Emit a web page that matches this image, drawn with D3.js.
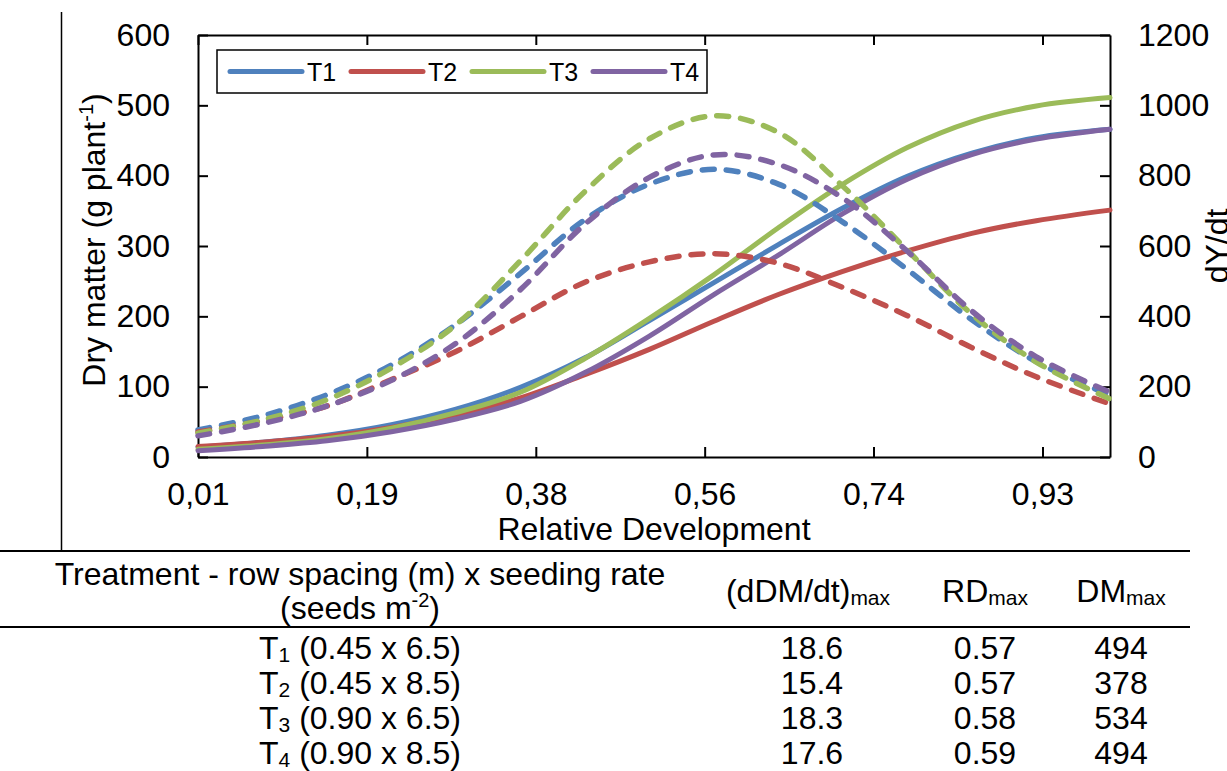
<!DOCTYPE html>
<html>
<head>
<meta charset="utf-8">
<script src="https://cdn.jsdelivr.net/npm/d3@7"></script>
<style>
  body { margin: 0; background: #fff; }
  svg { display: block; font-family: "Liberation Sans", Arial, sans-serif; }
</style>
</head>
<body>
<div class="viz"></div>
<script>
// relative development samples (x) and values
var rd = [0.01, 0.08, 0.15, 0.22, 0.29, 0.36, 0.43, 0.50, 0.57, 0.64, 0.71, 0.78, 0.85, 0.92, 1.00];

// dry matter (left axis)
var dm_T1 = [14, 21, 31, 46, 68, 99, 141, 194, 248, 302, 354, 399, 432, 454, 466];
var dm_T2 = [15, 21, 29, 42, 60, 84, 117, 153, 193, 231, 264, 293, 318, 336, 351];
var dm_T3 = [11, 17, 26, 41, 63, 92, 140, 197, 259, 326, 388, 440, 477, 499, 511];
var dm_T4 = [9, 15, 23, 36, 54, 79, 120, 172, 231, 287, 346, 395, 430, 452, 466];

// dY/dt (right axis)
var dy_T1 = [77, 117, 177, 262, 377, 522, 675, 776, 818, 776, 668, 533, 390, 271, 176];
var dy_T2 = [71, 103, 145, 220, 300, 399, 497, 555, 578, 551, 482, 402, 311, 228, 151];
var dy_T3 = [68, 105, 163, 253, 376, 558, 755, 905, 970, 923, 770, 588, 406, 270, 165];
var dy_T4 = [60, 95, 145, 218, 323, 476, 662, 795, 859, 832, 736, 585, 415, 285, 184];

var series_names = ["T1", "T2", "T3", "T4"];
var colors = ["#4F81BD", "#C0504D", "#9BBB59", "#8064A2"];

var x_ticks = [0.01, 0.1933, 0.3767, 0.56, 0.7433, 0.9267];
var x_tick_labels = ["0,01", "0,19", "0,38", "0,56", "0,74", "0,93"];
var left_ticks = [0, 100, 200, 300, 400, 500, 600];
var right_ticks = [0, 200, 400, 600, 800, 1000, 1200];

// table below the chart
var treat_sub = ["1", "2", "3", "4"];
var treat_desc = [" (0.45 x 6.5)", " (0.45 x 8.5)", " (0.90 x 6.5)", " (0.90 x 8.5)"];
var rate_max = ["18.6", "15.4", "18.3", "17.6"];
var rd_max = ["0.57", "0.57", "0.58", "0.59"];
var dm_max = ["494", "378", "534", "494"];

var width = 1227, height = 771;
var plot = {left: 198, right: 1110, top: 35, bottom: 457};

var svg = d3.select('.viz').append('svg')
    .attr('width', width)
    .attr('height', height);

svg.append('rect').attr('width', width).attr('height', height).attr('fill', '#fff');

var scale_x = d3.scaleLinear().domain([0.01, 1.0]).range([plot.left, plot.right]);
var scale_yl = d3.scaleLinear().domain([0, 600]).range([plot.bottom, plot.top]);
var scale_yr = d3.scaleLinear().domain([0, 1200]).range([plot.bottom, plot.top]);

// thin vertical rule on the left
svg.append('line')
    .attr('x1', 61.5).attr('x2', 61.5).attr('y1', 12).attr('y2', 551)
    .attr('stroke', '#000').attr('stroke-width', 1.5);

// axes (ticks inside)
function style_axis(g, size) {
    g.selectAll('path').attr('stroke', '#000').attr('stroke-width', 2);
    g.selectAll('line').attr('stroke', '#000').attr('stroke-width', 2);
    g.selectAll('text').attr('font-size', size).attr('fill', '#000')
        .attr('font-family', '"Liberation Sans", Arial, sans-serif');
}

var gx = svg.append('g')
    .attr('transform', `translate(0, ${plot.bottom})`)
    .call(d3.axisBottom(scale_x).tickValues(x_ticks)
        .tickFormat((d, i) => x_tick_labels[i])
        .tickSize(-10).tickSizeOuter(0).tickPadding(25));
style_axis(gx, 32);

var gtop = svg.append('g')
    .attr('transform', `translate(0, ${plot.top})`)
    .call(d3.axisTop(scale_x).tickValues(x_ticks).tickFormat('')
        .tickSize(-10).tickSizeOuter(0));
style_axis(gtop, 32);

var gl = svg.append('g')
    .attr('transform', `translate(${plot.left}, 0)`)
    .call(d3.axisLeft(scale_yl).tickValues(left_ticks)
        .tickFormat(d3.format('d'))
        .tickSize(-10).tickSizeOuter(0).tickPadding(28));
style_axis(gl, 32);

var gr = svg.append('g')
    .attr('transform', `translate(${plot.right}, 0)`)
    .call(d3.axisRight(scale_yr).tickValues(right_ticks)
        .tickFormat(d3.format('d'))
        .tickSize(-10).tickSizeOuter(0).tickPadding(28));
style_axis(gr, 32);

// axis titles
svg.append('text')
    .attr('x', (plot.left + plot.right) / 2).attr('y', 540)
    .attr('text-anchor', 'middle').attr('font-size', 32)
    .text('Relative Development');

var ylab = svg.append('text')
    .attr('transform', 'translate(105, 240) rotate(-90)')
    .attr('text-anchor', 'middle').attr('font-size', 32);
ylab.append('tspan').text('Dry matter (g plant');
ylab.append('tspan').attr('font-size', 20).attr('dy', -12).text('-1');
ylab.append('tspan').attr('dy', 12).text(')');

svg.append('text')
    .attr('transform', 'translate(1228, 246) rotate(-90)')
    .attr('text-anchor', 'middle').attr('font-size', 32)
    .text('dY/dt');

// curves
var dm_data = [dm_T1, dm_T2, dm_T3, dm_T4];
var dy_data = [dy_T1, dy_T2, dy_T3, dy_T4];

var line_left = d3.line()
    .x((d, i) => scale_x(rd[i]))
    .y(d => scale_yl(d))
    .curve(d3.curveCatmullRom.alpha(0.5));

var line_right = d3.line()
    .x((d, i) => scale_x(rd[i]))
    .y(d => scale_yr(d))
    .curve(d3.curveCatmullRom.alpha(0.5));

svg.append('g').selectAll('path')
    .data(dm_data)
    .enter()
    .append('path')
    .attr('d', d => line_left(d))
    .attr('fill', 'none')
    .attr('stroke', (d, i) => colors[i])
    .attr('stroke-width', 5)
    .attr('stroke-linecap', 'round');

svg.append('g').selectAll('path')
    .data(dy_data)
    .enter()
    .append('path')
    .attr('d', d => line_right(d))
    .attr('fill', 'none')
    .attr('stroke', (d, i) => colors[i])
    .attr('stroke-width', 5.5)
    .attr('stroke-dasharray', '12,12')
    .attr('stroke-linecap', 'round');

// legend
var legend = svg.append('g');
legend.append('rect')
    .attr('x', 217).attr('y', 50).attr('width', 490).attr('height', 43)
    .attr('fill', '#fff').attr('stroke', '#000').attr('stroke-width', 1.5);

var item = legend.selectAll('g.item')
    .data(series_names)
    .enter()
    .append('g')
    .attr('class', 'item')
    .attr('transform', (d, i) => `translate(${230 + i * 121}, 71.5)`);

item.append('line')
    .attr('x1', 0).attr('x2', 72).attr('y1', 0).attr('y2', 0)
    .attr('stroke', (d, i) => colors[i])
    .attr('stroke-width', 5)
    .attr('stroke-linecap', 'round');

item.append('text')
    .attr('x', 77).attr('y', 9)
    .attr('font-size', 25)
    .text(d => d);

// table
svg.append('line').attr('x1', 0).attr('x2', 1190).attr('y1', 551).attr('y2', 551)
    .attr('stroke', '#000').attr('stroke-width', 2);
svg.append('line').attr('x1', 0).attr('x2', 1190).attr('y1', 627).attr('y2', 627)
    .attr('stroke', '#000').attr('stroke-width', 2);

var col_treat = 360, col_rate = 812, col_rd = 985, col_dm = 1121;

svg.append('text')
    .attr('x', col_treat).attr('y', 585)
    .attr('text-anchor', 'middle').attr('font-size', 32)
    .text('Treatment - row spacing (m) x seeding rate');

var seeds = svg.append('text')
    .attr('x', col_treat).attr('y', 619)
    .attr('text-anchor', 'middle').attr('font-size', 32);
seeds.append('tspan').text('(seeds m');
seeds.append('tspan').attr('font-size', 20).attr('dy', -12).text('-2');
seeds.append('tspan').attr('dy', 12).text(')');

var headers = [["(dDM/dt)", col_rate - 4], ["RD", col_rd], ["DM", col_dm]];
headers.forEach(h => {
    var t = svg.append('text')
        .attr('x', h[1]).attr('y', 602)
        .attr('text-anchor', 'middle').attr('font-size', 32);
    t.append('tspan').text(h[0]);
    t.append('tspan').attr('font-size', 21).attr('dy', 3).text('max');
});

var row_y = [659, 694, 729, 764];

treat_sub.forEach((s, i) => {
    var t = svg.append('text')
        .attr('x', col_treat).attr('y', row_y[i])
        .attr('text-anchor', 'middle').attr('font-size', 32);
    t.append('tspan').text('T');
    t.append('tspan').attr('font-size', 21).attr('dy', 3).text(s);
    t.append('tspan').attr('dy', -3).text(treat_desc[i]);

    svg.append('text').attr('x', col_rate).attr('y', row_y[i])
        .attr('text-anchor', 'middle').attr('font-size', 32).text(rate_max[i]);
    svg.append('text').attr('x', col_rd).attr('y', row_y[i])
        .attr('text-anchor', 'middle').attr('font-size', 32).text(rd_max[i]);
    svg.append('text').attr('x', col_dm).attr('y', row_y[i])
        .attr('text-anchor', 'middle').attr('font-size', 32).text(dm_max[i]);
});
</script>
</body>
</html>
